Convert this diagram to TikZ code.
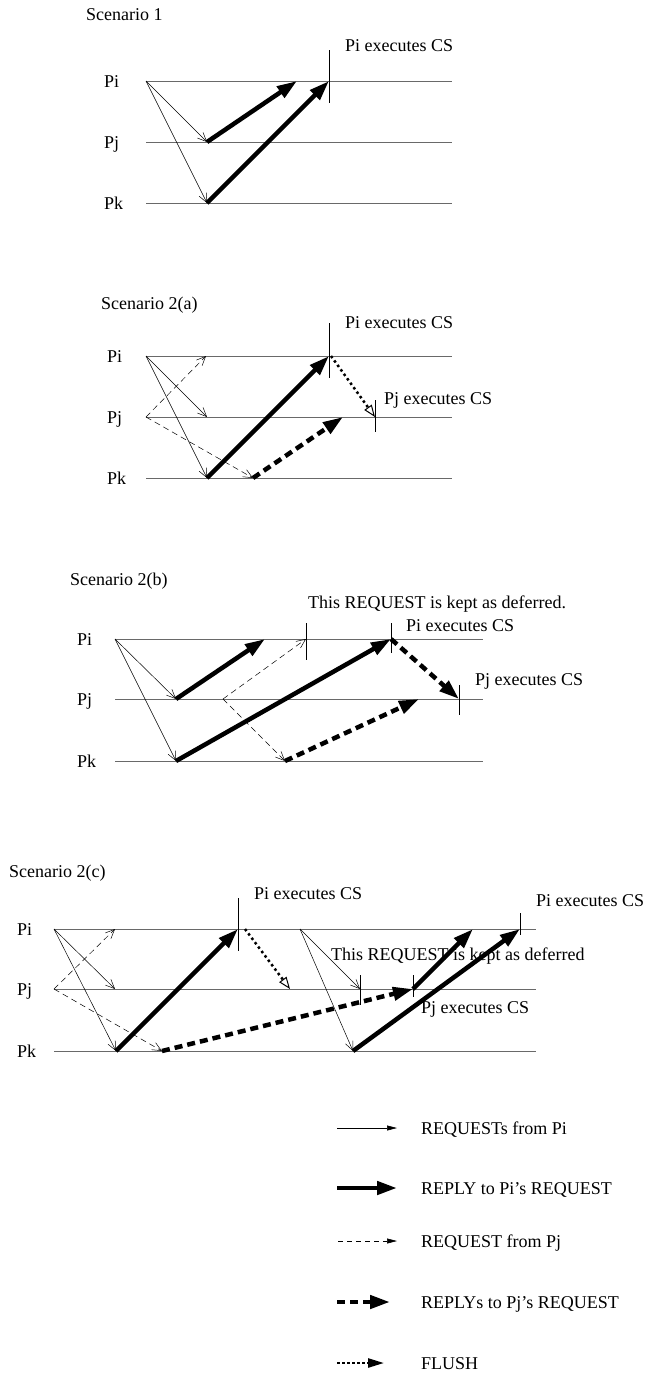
\documentclass[tikz,border=0pt]{standalone}
\usepackage{fontspec}
\setmainfont{Liberation Serif}
\usetikzlibrary{arrows.meta}
\definecolor{procgray}{RGB}{105,105,105}
\tikzset{
  proc/.style={draw=procgray, line width=0.7pt},
  plabel/.style={anchor=base west, inner sep=0pt},
  note/.style={anchor=base west, inner sep=0pt},
  cstick/.style={draw=black, line width=0.7pt},
  reqi/.style={line width=0.5pt, -{Straight Barb[length=9pt,width=8pt]}},
  reqj/.style={reqi, dash pattern=on 6pt off 4pt},
  reply/.style={line width=4.5pt, -{Triangle[length=20pt,width=13pt]}},
  replyj/.style={reply, dash pattern=on 8pt off 5pt},
  flush/.style={line width=2.5pt, dash pattern=on 2.5pt off 3pt,
    -{Triangle[open,length=12pt,width=9pt,line width=1pt]}},
  legthin/.style={line width=0.6pt, -{Triangle[length=10pt,width=5pt]}},
  legflush/.style={line width=2.5pt, dash pattern=on 2.5pt off 2.5pt,
    -{Triangle[length=16pt,width=9pt]}}
}

\begin{document}
\begin{tikzpicture}[x=1pt, y=-1pt, font=\fontsize{18}{21}\selectfont]
  \useasboundingbox (0,0) rectangle (646,1382);

  % Scenario 1
  \node[note] (s1title) at (86,20) {Scenario 1};
  \foreach \p/\y in {i/81, j/142, k/203} {
    \node[plabel] (s1n\p) at (104,\y+6) {P\p};
    \coordinate (s1L\p) at (146,\y);
    \coordinate (s1R\p) at (452,\y);
    \draw[proc] (s1L\p) -- (s1R\p);
  }
  \coordinate (s1j1) at (207,142);
  \coordinate (s1k1) at (207,203);
  \coordinate (s1i1) at (297,81);
  \coordinate (s1cs) at (329,81);
  \draw[reqi] (s1Li) -- (s1j1);
  \draw[reqi] (s1Li) -- (s1k1);
  \draw[reply] (s1j1) -- (s1i1);
  \draw[reply] (s1k1) -- (s1cs);
  \draw[cstick] ([yshift=31pt]s1cs) -- ([yshift=-22pt]s1cs);
  \node[note] (s1csl) at (345,51) {Pi executes CS};

  % Scenario 2(a)
  \node[note] (s2atitle) at (101,309) {Scenario 2(a)};
  \foreach \p/\y in {i/356, j/417, k/478} {
    \node[plabel] (s2an\p) at (107,\y+6) {P\p};
    \coordinate (s2aL\p) at (146,\y);
    \coordinate (s2aR\p) at (452,\y);
    \draw[proc] (s2aL\p) -- (s2aR\p);
  }
  \coordinate (s2aj1) at (207,417);
  \coordinate (s2ak1) at (207,478);
  \coordinate (s2ai1) at (206,356);
  \coordinate (s2ak2) at (253,478);
  \coordinate (s2acs) at (329,356);
  \coordinate (s2aj2) at (343,417);
  \coordinate (s2ajcs) at (375,417);
  \draw[reqi] (s2aLi) -- (s2aj1);
  \draw[reqi] (s2aLi) -- (s2ak1);
  \draw[reqj] (s2aLj) -- (s2ai1);
  \draw[reqj] (s2aLj) -- (s2ak2);
  \draw[reply] (s2ak1) -- (s2acs);
  \draw[replyj] (s2ak2) -- (s2aj2);
  \draw[flush] ([xshift=2pt]s2acs) -- (s2ajcs);
  \draw[cstick] ([yshift=33pt]s2acs) -- ([yshift=-22pt]s2acs);
  \draw[cstick] ([yshift=17pt]s2ajcs) -- ([yshift=-15pt]s2ajcs);
  \node[note] (s2acsl) at (345,328) {Pi executes CS};
  \node[note] (s2ajcsl) at (384,404) {Pj executes CS};

  % Scenario 2(b)
  \node[note] (s2btitle) at (70,585) {Scenario 2(b)};
  \foreach \p/\y in {i/639, j/699, k/761} {
    \node[plabel] (s2bn\p) at (77,\y+6) {P\p};
    \coordinate (s2bL\p) at (115,\y);
    \coordinate (s2bR\p) at (483,\y);
    \draw[proc] (s2bL\p) -- (s2bR\p);
  }
  \coordinate (s2bj1) at (176,699);
  \coordinate (s2bk1) at (176,761);
  \coordinate (s2bi1) at (265,639);
  \coordinate (s2bj2) at (223,699);
  \coordinate (s2bdef) at (306,639);
  \coordinate (s2bk2) at (285,761);
  \coordinate (s2bcs) at (391,639);
  \coordinate (s2bj3) at (419,699);
  \coordinate (s2bjcs) at (459,699);
  \draw[reqi] (s2bLi) -- (s2bj1);
  \draw[reqi] (s2bLi) -- (s2bk1);
  \draw[reply] (s2bj1) -- (s2bi1);
  \draw[reply] (s2bk1) -- (s2bcs);
  \draw[reqj] (s2bj2) -- (s2bdef);
  \draw[reqj] (s2bj2) -- (s2bk2);
  \draw[replyj] (s2bk2) -- (s2bj3);
  \draw[replyj] (s2bcs) -- (s2bjcs);
  \draw[cstick] ([yshift=16pt]s2bdef) -- ([yshift=-21pt]s2bdef);
  \draw[cstick] ([yshift=16pt]s2bcs) -- ([yshift=-14pt]s2bcs);
  \draw[cstick] ([yshift=14pt]s2bjcs) -- ([yshift=-16pt]s2bjcs);
  \node[note] (s2bdefl) at (308,608) {This REQUEST is kept as deferred.};
  \node[note] (s2bcsl) at (406,631) {Pi executes CS};
  \node[note] (s2bjcsl) at (475,685) {Pj executes CS};

  % Scenario 2(c)
  \node[note] (s2ctitle) at (9,877) {Scenario 2(c)};
  \foreach \p/\y in {i/929, j/989, k/1051} {
    \node[plabel] (s2cn\p) at (17,\y+6) {P\p};
    \coordinate (s2cL\p) at (54,\y);
    \coordinate (s2cR\p) at (536,\y);
    \draw[proc] (s2cL\p) -- (s2cR\p);
  }
  \coordinate (s2cj1) at (115,989);
  \coordinate (s2ck1) at (116,1051);
  \coordinate (s2ci1) at (115,929);
  \coordinate (s2ck2) at (162,1051);
  \coordinate (s2ccs) at (238,929);
  \coordinate (s2cj2) at (290,989);
  \coordinate (s2ci2) at (300,929);
  \coordinate (s2cdef) at (360,989);
  \coordinate (s2ck3) at (353,1051);
  \coordinate (s2cjcs) at (413,989);
  \coordinate (s2ci3) at (473,929);
  \coordinate (s2ccs2) at (520,929);
  \draw[reqi] (s2cLi) -- (s2cj1);
  \draw[reqi] (s2cLi) -- (s2ck1);
  \draw[reqj] (s2cLj) -- (s2ci1);
  \draw[reqj] (s2cLj) -- (s2ck2);
  \draw[reply] (s2ck1) -- (s2ccs);
  \draw[flush] ([xshift=7pt]s2ccs) -- (s2cj2);
  \draw[reqi] (s2ci2) -- (s2cdef);
  \draw[reqi] (s2ci2) -- (s2ck3);
  \draw[replyj] (s2ck2) -- (s2cjcs);
  \draw[reply] (s2cjcs) -- (s2ci3);
  \draw[reply] (s2ck3) -- (s2ccs2);
  \draw[cstick] ([yshift=31pt]s2ccs) -- ([yshift=-22pt]s2ccs);
  \draw[cstick] ([yshift=14pt]s2cdef) -- ([yshift=-16pt]s2cdef);
  \draw[cstick] ([yshift=14pt]s2cjcs) -- ([yshift=-8pt]s2cjcs);
  \draw[cstick] ([yshift=16pt]s2ccs2) -- ([yshift=-6pt]s2ccs2);
  \node[note] (s2ccsl) at (254,899) {Pi executes CS};
  \node[note] (s2ccs2l) at (536,906) {Pi executes CS};
  \node[note] (s2cdefl) at (331,960) {This REQUEST is kept as deferred};
  \node[note] (s2cjcsl) at (421,1013) {Pj executes CS};

  % Legend
  \coordinate (lg1a) at (337,1128); \coordinate (lg1b) at (397,1128);
  \coordinate (lg2a) at (337,1188); \coordinate (lg2b) at (397,1188);
  \coordinate (lg3a) at (338,1241); \coordinate (lg3b) at (397,1241);
  \coordinate (lg4a) at (337,1302); \coordinate (lg4b) at (390,1302);
  \coordinate (lg5a) at (337,1363); \coordinate (lg5b) at (384,1363);
  \draw[legthin] (lg1a) -- (lg1b);
  \draw[reply] (lg2a) -- (lg2b);
  \draw[legthin, dash pattern=on 5pt off 4pt] (lg3a) -- (lg3b);
  \draw[replyj] (lg4a) -- (lg4b);
  \draw[legflush] (lg5a) -- (lg5b);
  \node[note] (lg1t) at (421,1134) {REQUESTs from Pi};
  \node[note] (lg2t) at (421,1194) {REPLY to Pi's REQUEST};
  \node[note] (lg3t) at (421,1247) {REQUEST from Pj};
  \node[note] (lg4t) at (421,1308) {REPLYs to Pj's REQUEST};
  \node[note] (lg5t) at (421,1369) {FLUSH};
\end{tikzpicture}
\end{document}
